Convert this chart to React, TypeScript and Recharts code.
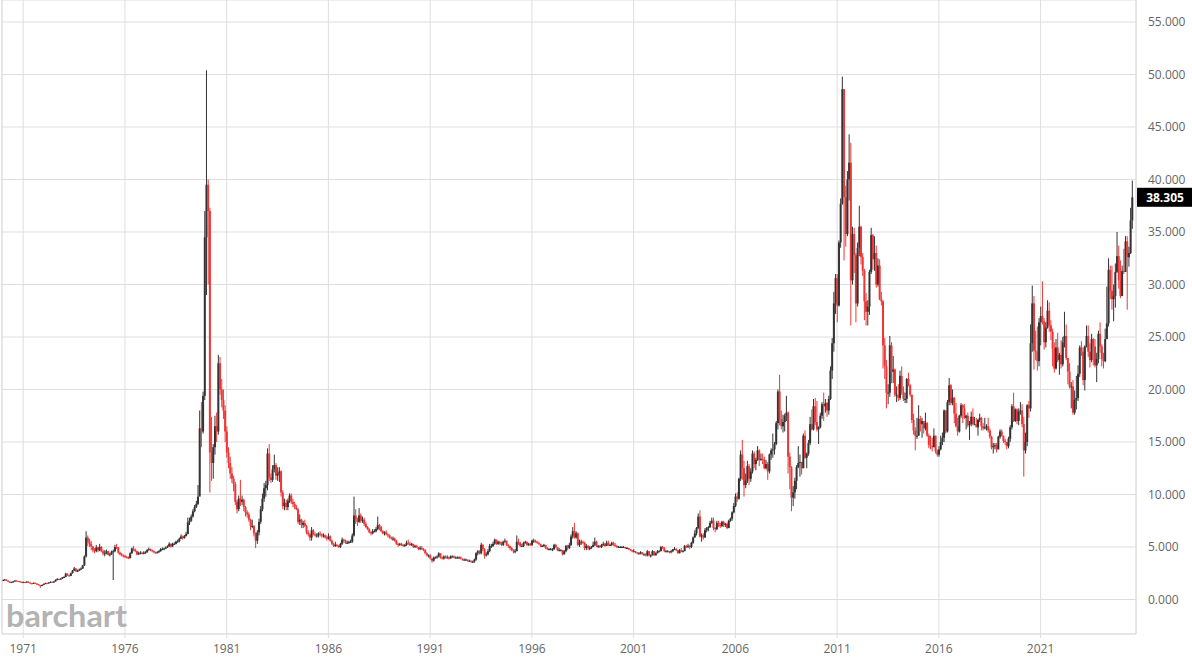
import React from "react";
import {
  ComposedChart,
  Bar,
  XAxis,
  YAxis,
  CartesianGrid,
  ReferenceLine,
} from "recharts";

// monthly silver futures, Jan 1970 .. Jul 2025
const START_YEAR = 1970;

const opens = [
  1.82, 1.86, 1.9, 1.8, 1.7, 1.64, 1.66, 1.72, 1.8, 1.76, 1.74, 1.68, // 1970
  1.64, 1.66, 1.62, 1.7, 1.62, 1.54, 1.52, 1.58, 1.52, 1.46, 1.36, 1.32, // 1971
  1.38, 1.48, 1.56, 1.54, 1.62, 1.68, 1.62, 1.72, 1.86, 1.96, 1.92, 1.98, // 1972
  2.1, 2.15, 2.45, 2.3, 2.25, 2.5, 2.75, 2.95, 2.7, 2.75, 2.85, 2.95, // 1973
  3.25, 4.1, 5.9, 5.5, 5.3, 5.05, 4.7, 4.6, 4.95, 4.7, 5.0, 4.6, // 1974
  4.4, 4.4, 4.6, 4.25, 4.3, 4.55, 4.6, 5.0, 4.95, 4.45, 4.3, 4.2, // 1975
  4.15, 4.05, 4.0, 3.95, 4.4, 4.85, 4.75, 4.6, 4.3, 4.4, 4.45, 4.4, // 1976
  4.45, 4.5, 4.7, 4.8, 4.7, 4.6, 4.5, 4.45, 4.5, 4.6, 4.8, 4.8, // 1977
  4.85, 4.95, 5.05, 5.3, 5.05, 5.3, 5.3, 5.5, 5.55, 5.8, 6.0, 5.85, // 1978
  6.05, 6.25, 7.35, 7.5, 7.9, 8.4, 8.8, 9.1, 9.8, 16.3, 16.0, 19.4, // 1979
  34.5, 39.5, 37.0, 14.0, 13.0, 14.5, 16.5, 16.0, 22.5, 20.0, 19.0, 18.0, // 1980
  16.0, 14.0, 13.0, 12.0, 11.5, 11.0, 9.3, 8.6, 9.6, 9.3, 9.5, 8.8, // 1981
  8.3, 8.1, 7.6, 7.0, 7.0, 6.3, 5.6, 6.4, 7.4, 8.6, 9.6, 10.6, // 1982
  10.9, 13.9, 11.6, 11.4, 12.4, 12.8, 11.8, 12.0, 12.2, 10.2, 8.9, 9.2, // 1983
  8.8, 9.4, 9.9, 9.3, 9.1, 8.8, 8.6, 7.4, 7.6, 7.1, 7.3, 7.0, // 1984
  6.4, 6.2, 5.9, 6.6, 6.2, 6.1, 6.1, 6.3, 6.2, 6.1, 6.1, 5.9, // 1985
  5.8, 6.0, 5.6, 5.3, 5.1, 5.2, 5.1, 5.0, 5.3, 5.7, 5.6, 5.4, // 1986
  5.4, 5.5, 5.5, 6.1, 8.0, 7.6, 7.4, 8.0, 7.5, 7.6, 7.2, 6.9, // 1987
  6.7, 6.4, 6.3, 6.5, 6.5, 6.7, 7.1, 6.9, 6.5, 6.3, 6.4, 6.2, // 1988
  6.1, 5.9, 5.8, 5.8, 5.6, 5.3, 5.2, 5.3, 5.2, 5.1, 5.2, 5.4, // 1989
  5.3, 5.2, 5.3, 5.0, 5.1, 5.0, 4.8, 4.9, 4.8, 4.7, 4.4, 4.2, // 1990
  4.2, 3.9, 3.7, 4.0, 4.0, 4.1, 4.4, 4.0, 3.9, 4.1, 4.0, 4.0, // 1991
  3.9, 4.1, 4.1, 4.0, 4.0, 4.0, 4.0, 3.9, 3.8, 3.8, 3.8, 3.7, // 1992
  3.7, 3.6, 3.6, 3.8, 4.4, 4.6, 4.4, 5.2, 4.8, 4.2, 4.3, 4.6, // 1993
  5.1, 5.1, 5.3, 5.7, 5.3, 5.5, 5.3, 5.2, 5.5, 5.6, 5.2, 5.1, // 1994
  4.9, 4.7, 4.6, 4.6, 5.5, 5.4, 5.1, 5.1, 5.4, 5.5, 5.2, 5.3, // 1995
  5.2, 5.6, 5.6, 5.5, 5.4, 5.3, 5.1, 5.1, 5.2, 4.9, 4.8, 4.8, // 1996
  4.8, 4.8, 5.2, 5.0, 4.7, 4.7, 4.7, 4.3, 4.6, 5.1, 4.9, 5.2, // 1997
  6.0, 6.5, 5.9, 6.3, 5.2, 5.4, 5.5, 5.4, 4.9, 5.1, 4.9, 4.9, // 1998
  5.0, 5.2, 5.5, 5.1, 5.1, 5.0, 5.2, 5.3, 5.1, 5.4, 5.2, 5.2, // 1999
  5.4, 5.2, 5.1, 5.0, 5.0, 5.0, 5.0, 5.0, 4.9, 4.9, 4.8, 4.7, // 2000
  4.6, 4.6, 4.5, 4.4, 4.4, 4.5, 4.3, 4.3, 4.2, 4.6, 4.2, 4.2, // 2001
  4.6, 4.2, 4.4, 4.6, 4.6, 5.0, 4.9, 4.6, 4.6, 4.6, 4.5, 4.6, // 2002
  4.8, 4.8, 4.7, 4.4, 4.7, 4.6, 4.6, 5.1, 5.0, 5.1, 5.0, 5.4, // 2003
  5.9, 6.3, 6.8, 7.9, 6.0, 6.1, 5.9, 6.6, 6.8, 6.9, 7.3, 7.5, // 2004
  6.8, 6.7, 7.3, 7.1, 7.0, 7.4, 7.1, 7.2, 6.8, 7.5, 7.7, 8.3, // 2005
  8.9, 9.8, 9.6, 11.5, 13.8, 12.5, 10.9, 11.3, 12.7, 11.5, 12.2, 13.9, // 2006
  12.9, 13.3, 14.2, 13.3, 13.4, 13.3, 12.5, 12.9, 12.2, 13.8, 14.2, 14.3, // 2007
  14.8, 16.8, 19.8, 17.2, 16.5, 16.9, 17.5, 17.8, 13.6, 12.6, 9.7, 10.2, // 2008
  11.3, 12.6, 13.0, 13.1, 12.5, 15.6, 13.5, 13.9, 14.9, 16.7, 16.2, 18.4, // 2009
  16.9, 16.2, 16.4, 17.5, 18.6, 18.4, 18.7, 18.0, 19.1, 21.8, 24.4, 28.2, // 2010
  30.6, 28.0, 34.0, 37.7, 48.6, 38.3, 34.8, 40.0, 41.6, 30.4, 34.8, 32.8, // 2011
  28.2, 33.5, 35.5, 32.6, 31.3, 28.4, 27.4, 27.9, 31.2, 34.7, 32.4, 33.0, // 2012
  30.0, 31.8, 28.6, 28.4, 24.2, 22.2, 19.7, 19.7, 24.2, 21.7, 21.9, 19.5, // 2013
  19.5, 19.2, 21.3, 19.8, 19.1, 19.1, 21.0, 20.4, 19.5, 17.1, 16.1, 15.6, // 2014
  15.6, 17.2, 16.7, 17.0, 16.3, 16.8, 15.6, 14.7, 14.6, 14.5, 15.6, 14.1, // 2015
  13.8, 14.3, 15.0, 15.4, 18.0, 16.0, 18.8, 20.4, 18.7, 19.2, 17.7, 16.5, // 2016
  16.0, 17.5, 18.5, 18.2, 17.3, 17.5, 16.6, 16.7, 17.4, 16.7, 16.7, 16.4, // 2017
  17.1, 17.3, 16.5, 16.3, 16.4, 16.5, 16.1, 15.5, 14.5, 14.6, 14.7, 14.3, // 2018
  15.5, 16.0, 15.6, 15.1, 15.0, 14.6, 15.3, 16.4, 18.4, 17.0, 18.1, 17.0, // 2019
  17.9, 18.0, 16.7, 14.2, 15.0, 18.5, 18.2, 24.4, 28.2, 23.7, 23.6, 22.7, // 2020
  26.4, 27.0, 26.5, 24.5, 25.9, 27.5, 26.1, 25.5, 23.9, 22.0, 24.0, 22.8, // 2021
  23.3, 22.4, 24.5, 25.1, 23.0, 21.7, 20.3, 20.3, 17.8, 19.0, 19.2, 21.5, // 2022
  24.0, 23.6, 20.9, 24.1, 25.1, 23.6, 22.8, 24.8, 24.1, 22.3, 22.9, 25.3, // 2023
  24.1, 22.9, 22.7, 24.8, 26.3, 31.4, 29.4, 28.6, 28.9, 31.2, 32.7, 30.4, // 2024
  28.9, 31.3, 31.2, 34.1, 32.6, 33.0, 36.1, // 2025
];

const highs = [
  1.92, 1.94, 1.92, 1.82, 1.72, 1.7, 1.76, 1.84, 1.82, 1.78, 1.76, 1.7, // 1970
  1.7, 1.68, 1.74, 1.72, 1.63, 1.57, 1.62, 1.62, 1.54, 1.47, 1.38, 1.42, // 1971
  1.52, 1.6, 1.6, 1.65, 1.72, 1.7, 1.76, 1.92, 2.02, 1.98, 2.03, 2.14, // 1972
  2.2, 2.55, 2.5, 2.35, 2.55, 2.8, 3.1, 2.98, 2.85, 2.95, 3.05, 3.3, // 1973
  4.2, 6.5, 6.1, 5.8, 5.6, 5.1, 4.9, 5.2, 5.05, 5.3, 5.1, 4.75, // 1974
  4.7, 4.75, 4.65, 4.45, 4.65, 4.75, 5.2, 5.3, 5.0, 4.55, 4.45, 4.3, // 1975
  4.25, 4.15, 4.1, 4.5, 4.95, 5.1, 4.85, 4.65, 4.55, 4.6, 4.55, 4.6, // 1976
  4.6, 4.8, 4.95, 4.85, 4.75, 4.65, 4.55, 4.6, 4.7, 4.9, 4.95, 4.95, // 1977
  5.05, 5.15, 5.45, 5.35, 5.4, 5.45, 5.6, 5.7, 5.9, 6.2, 6.1, 6.15, // 1978
  6.45, 7.8, 7.8, 8.1, 8.6, 9.0, 9.4, 10.9, 18.0, 18.8, 19.8, 37.0, // 1979
  50.4, 40.0, 37.3, 17.4, 14.8, 17.5, 17.8, 23.3, 23.1, 21.0, 20.0, 18.5, // 1980
  16.5, 14.5, 13.6, 12.6, 11.8, 11.2, 9.5, 9.9, 11.4, 9.9, 9.6, 8.9, // 1981
  8.5, 8.3, 7.7, 7.6, 7.1, 6.4, 6.6, 7.7, 8.9, 10.1, 11.1, 11.3, // 1982
  14.4, 14.8, 12.0, 12.8, 13.8, 13.0, 12.6, 12.6, 12.3, 10.4, 9.6, 9.5, // 1983
  9.6, 10.1, 10.1, 9.6, 9.3, 9.0, 8.7, 8.1, 7.7, 7.5, 7.6, 7.1, // 1984
  6.6, 6.3, 6.9, 6.7, 6.4, 6.3, 6.4, 6.5, 6.3, 6.3, 6.2, 6.1, // 1985
  6.3, 6.1, 5.7, 5.4, 5.5, 5.3, 5.2, 5.4, 5.9, 5.8, 5.7, 5.6, // 1986
  5.6, 5.7, 6.3, 9.8, 8.6, 7.8, 8.7, 8.2, 7.9, 7.8, 7.4, 7.0, // 1987
  6.8, 6.5, 6.7, 6.7, 6.9, 7.9, 7.2, 7.0, 6.6, 6.5, 6.6, 6.3, // 1988
  6.2, 6.0, 6.0, 5.9, 5.7, 5.4, 5.4, 5.4, 5.3, 5.3, 5.6, 5.7, // 1989
  5.5, 5.4, 5.3, 5.2, 5.2, 5.0, 5.1, 5.1, 4.9, 4.8, 4.5, 4.3, // 1990
  4.3, 3.9, 4.1, 4.1, 4.2, 4.5, 4.4, 4.1, 4.2, 4.2, 4.2, 4.1, // 1991
  4.2, 4.2, 4.2, 4.1, 4.1, 4.1, 4.1, 3.9, 3.9, 3.9, 3.8, 3.8, // 1992
  3.7, 3.7, 3.9, 4.5, 4.7, 4.7, 5.4, 5.3, 4.9, 4.5, 4.8, 5.3, // 1993
  5.3, 5.5, 5.8, 5.7, 5.6, 5.6, 5.5, 5.6, 5.8, 5.6, 5.3, 5.1, // 1994
  5.0, 4.8, 4.8, 6.1, 5.8, 5.5, 5.3, 5.5, 5.6, 5.5, 5.4, 5.4, // 1995
  5.7, 5.8, 5.7, 5.6, 5.5, 5.3, 5.2, 5.3, 5.2, 5.0, 4.9, 4.9, // 1996
  4.9, 5.3, 5.3, 5.0, 4.9, 4.8, 4.7, 4.7, 5.2, 5.2, 5.4, 6.2, // 1997
  6.9, 7.3, 6.5, 6.4, 5.7, 5.7, 5.6, 5.5, 5.3, 5.2, 5.1, 5.1, // 1998
  5.5, 5.9, 5.6, 5.2, 5.2, 5.3, 5.5, 5.4, 5.6, 5.6, 5.3, 5.5, // 1999
  5.5, 5.4, 5.2, 5.1, 5.1, 5.1, 5.1, 5.0, 5.0, 4.9, 4.8, 4.7, // 2000
  4.8, 4.6, 4.5, 4.5, 4.6, 4.5, 4.4, 4.4, 4.7, 4.6, 4.3, 4.7, // 2001
  4.6, 4.5, 4.7, 4.7, 5.1, 5.1, 5.0, 4.7, 4.7, 4.6, 4.7, 4.8, // 2002
  5.0, 4.9, 4.7, 4.8, 4.9, 4.7, 5.2, 5.2, 5.3, 5.2, 5.5, 6.0, // 2003
  6.6, 6.9, 8.2, 8.5, 6.3, 6.3, 6.8, 6.9, 7.0, 7.5, 7.8, 7.8, // 2004
  6.9, 7.5, 7.5, 7.3, 7.5, 7.5, 7.3, 7.3, 7.6, 7.8, 8.4, 9.2, // 2005
  10.1, 10.2, 11.6, 14.2, 15.2, 13.2, 12.0, 13.2, 12.9, 12.5, 14.2, 14.1, // 2006
  13.5, 14.6, 14.3, 13.9, 13.9, 13.6, 13.3, 13.1, 13.9, 14.4, 15.8, 15.0, // 2007
  17.0, 20.0, 21.4, 18.0, 17.6, 17.7, 19.4, 17.9, 14.0, 12.7, 10.8, 11.6, // 2008
  12.8, 14.6, 13.8, 13.1, 15.8, 16.1, 14.0, 15.2, 17.4, 18.1, 19.1, 19.2, // 2009
  18.9, 16.5, 17.8, 18.8, 19.7, 19.1, 18.8, 19.4, 22.2, 24.9, 29.3, 31.0, // 2010
  31.0, 34.2, 38.2, 49.8, 48.6, 39.4, 40.8, 44.3, 43.5, 35.5, 35.4, 33.0, // 2011
  34.0, 37.5, 35.6, 33.0, 31.5, 29.2, 28.5, 31.4, 35.4, 34.8, 34.6, 33.7, // 2012
  32.5, 32.4, 29.3, 28.5, 24.9, 22.8, 20.5, 25.1, 24.5, 23.2, 22.0, 20.3, // 2013
  20.5, 21.8, 22.2, 20.3, 19.7, 21.1, 21.6, 20.5, 19.5, 17.7, 16.4, 17.3, // 2014
  18.5, 17.5, 17.3, 16.9, 17.8, 16.9, 15.8, 15.6, 15.4, 16.3, 15.6, 14.3, // 2015
  14.6, 15.6, 15.9, 18.1, 18.0, 19.0, 21.1, 20.5, 20.0, 19.3, 18.7, 17.3, // 2016
  17.6, 18.7, 18.6, 18.6, 17.6, 17.8, 17.0, 17.9, 18.2, 17.4, 17.3, 17.2, // 2017
  17.7, 17.4, 16.8, 17.3, 16.7, 17.3, 16.3, 15.6, 14.9, 14.9, 14.9, 15.6, // 2018
  16.2, 16.2, 15.6, 15.3, 15.0, 15.5, 16.6, 18.6, 19.7, 18.2, 18.2, 18.2, // 2019
  18.8, 18.6, 17.4, 15.9, 18.6, 18.9, 26.2, 29.9, 28.9, 25.6, 26.0, 26.8, // 2020
  27.9, 30.3, 26.8, 26.4, 28.5, 28.3, 26.6, 25.8, 24.5, 24.8, 25.4, 23.5, // 2021
  24.7, 25.0, 27.4, 26.2, 23.0, 22.5, 20.7, 20.9, 19.9, 21.3, 22.3, 24.2, // 2022
  24.6, 24.0, 24.2, 26.1, 26.1, 24.4, 25.3, 24.9, 24.8, 23.5, 25.6, 26.4, // 2023
  24.3, 23.5, 25.8, 29.8, 32.5, 31.8, 31.8, 30.0, 32.0, 35.0, 33.7, 32.3, // 2024
  31.8, 33.4, 34.6, 34.6, 33.6, 37.3, 39.9, // 2025
];

const lows = [
  1.8, 1.83, 1.77, 1.66, 1.58, 1.6, 1.63, 1.7, 1.72, 1.7, 1.64, 1.6, // 1970
  1.61, 1.58, 1.6, 1.59, 1.5, 1.48, 1.5, 1.48, 1.4, 1.33, 1.1, 1.3, // 1971
  1.36, 1.46, 1.5, 1.52, 1.58, 1.58, 1.6, 1.7, 1.82, 1.86, 1.9, 1.96, // 1972
  2.05, 2.12, 2.25, 2.18, 2.22, 2.48, 2.7, 2.6, 2.62, 2.7, 2.8, 2.9, // 1973
  3.2, 4.0, 5.1, 5.0, 4.7, 4.5, 4.4, 4.5, 4.5, 4.6, 4.5, 4.2, // 1974
  4.1, 4.3, 4.2, 4.1, 4.25, 1.85, 4.5, 4.8, 4.35, 4.2, 4.1, 4.0, // 1975
  3.95, 3.9, 3.85, 3.9, 4.35, 4.6, 4.5, 4.2, 4.25, 4.3, 4.3, 4.3, // 1976
  4.35, 4.45, 4.65, 4.6, 4.5, 4.4, 4.35, 4.4, 4.45, 4.55, 4.7, 4.7, // 1977
  4.8, 4.9, 5.0, 4.95, 5.0, 5.2, 5.25, 5.4, 5.45, 5.75, 5.7, 5.8, // 1978
  6.0, 6.2, 7.1, 7.4, 7.8, 8.3, 8.7, 9.0, 10.7, 14.5, 15.8, 19.0, // 1979
  29.0, 30.0, 10.2, 11.3, 11.5, 13.8, 15.0, 15.7, 19.5, 18.3, 17.2, 15.0, // 1980
  13.5, 12.5, 11.5, 11.1, 10.3, 9.0, 8.2, 8.4, 8.9, 9.0, 8.4, 7.9, // 1981
  7.8, 7.4, 6.6, 6.8, 6.0, 4.9, 5.3, 6.1, 7.2, 8.4, 9.3, 9.8, // 1982
  10.4, 11.3, 11.1, 11.2, 12.1, 11.4, 11.3, 11.2, 9.8, 8.6, 8.5, 8.5, // 1983
  8.5, 9.2, 9.1, 8.8, 8.6, 8.5, 7.2, 7.1, 6.8, 6.8, 6.9, 6.2, // 1984
  6.0, 5.6, 5.6, 6.1, 6.0, 5.9, 5.9, 6.0, 5.9, 5.9, 5.8, 5.6, // 1985
  5.7, 5.5, 5.2, 5.0, 5.0, 5.0, 4.9, 4.9, 5.2, 5.4, 5.3, 5.3, // 1986
  5.3, 5.4, 5.4, 6.0, 7.2, 7.0, 7.3, 7.3, 7.3, 7.0, 6.8, 6.6, // 1987
  6.3, 6.1, 6.2, 6.4, 6.4, 6.6, 6.6, 6.4, 6.2, 6.1, 6.1, 5.9, // 1988
  5.8, 5.7, 5.6, 5.5, 5.2, 5.0, 5.1, 5.1, 5.0, 5.0, 5.1, 5.2, // 1989
  5.1, 5.1, 4.9, 4.9, 4.9, 4.7, 4.7, 4.7, 4.6, 4.3, 4.1, 4.0, // 1990
  3.8, 3.5, 3.6, 3.9, 3.9, 4.0, 3.9, 3.8, 3.8, 3.9, 3.9, 3.8, // 1991
  3.9, 4.0, 3.9, 3.9, 3.9, 3.9, 3.8, 3.7, 3.7, 3.7, 3.6, 3.6, // 1992
  3.5, 3.5, 3.5, 3.7, 4.2, 4.3, 4.3, 4.6, 3.9, 4.1, 4.2, 4.5, // 1993
  4.9, 5.0, 5.2, 5.2, 5.2, 5.2, 5.1, 5.1, 5.4, 5.1, 4.9, 4.7, // 1994
  4.6, 4.4, 4.4, 4.6, 5.2, 5.0, 5.0, 5.0, 5.3, 5.1, 5.1, 5.1, // 1995
  5.1, 5.4, 5.4, 5.3, 5.2, 5.0, 5.0, 5.0, 4.8, 4.7, 4.7, 4.7, // 1996
  4.6, 4.7, 4.9, 4.6, 4.6, 4.6, 4.2, 4.3, 4.5, 4.7, 4.8, 5.1, // 1997
  5.8, 5.8, 5.8, 5.1, 5.0, 5.2, 5.3, 4.7, 4.7, 4.7, 4.7, 4.8, // 1998
  5.0, 5.1, 5.0, 4.9, 4.9, 4.9, 5.1, 5.0, 5.1, 5.1, 5.1, 5.1, // 1999
  5.1, 5.0, 4.9, 4.9, 4.9, 4.9, 4.9, 4.8, 4.8, 4.7, 4.6, 4.5, // 2000
  4.5, 4.4, 4.3, 4.3, 4.3, 4.3, 4.2, 4.1, 4.1, 4.1, 4.0, 4.2, // 2001
  4.2, 4.2, 4.4, 4.5, 4.6, 4.8, 4.5, 4.5, 4.5, 4.4, 4.4, 4.5, // 2002
  4.7, 4.6, 4.4, 4.4, 4.5, 4.5, 4.6, 4.9, 4.9, 4.8, 4.9, 5.3, // 2003
  5.9, 6.1, 6.7, 5.9, 5.5, 5.7, 5.9, 6.4, 6.5, 6.8, 7.2, 6.6, // 2004
  6.4, 6.6, 6.9, 6.8, 6.9, 6.9, 6.9, 6.7, 6.8, 7.4, 7.5, 8.2, // 2005
  8.8, 9.3, 9.5, 11.3, 11.4, 9.8, 10.6, 11.1, 10.9, 11.2, 12.0, 12.5, // 2006
  12.3, 13.2, 12.7, 13.2, 12.9, 12.4, 12.4, 11.4, 12.0, 13.3, 13.5, 13.8, // 2007
  14.7, 16.2, 16.6, 16.2, 15.9, 16.0, 17.0, 12.0, 10.5, 8.4, 8.9, 9.6, // 2008
  10.5, 12.5, 11.7, 11.9, 12.5, 13.4, 12.5, 13.7, 14.7, 16.1, 16.1, 16.6, // 2009
  16.0, 14.8, 16.3, 17.2, 17.0, 17.8, 17.4, 17.6, 19.0, 21.0, 23.6, 27.2, // 2010
  26.4, 27.9, 33.5, 37.6, 32.3, 33.6, 34.6, 38.0, 26.1, 30.0, 31.1, 26.4, // 2011
  27.9, 32.7, 31.9, 30.8, 26.6, 26.1, 26.1, 27.1, 31.0, 31.4, 31.3, 29.7, // 2012
  29.8, 28.5, 28.0, 22.0, 21.0, 18.2, 18.6, 19.3, 20.6, 20.6, 19.3, 18.8, // 2013
  18.9, 19.0, 19.5, 18.9, 18.7, 18.7, 20.3, 19.3, 16.8, 15.7, 14.2, 15.3, // 2014
  15.6, 16.0, 15.4, 15.8, 16.1, 15.5, 14.4, 14.3, 14.1, 14.5, 13.9, 13.6, // 2015
  13.6, 14.2, 14.7, 15.0, 15.8, 15.9, 18.5, 18.5, 18.5, 16.8, 16.4, 15.6, // 2016
  15.9, 17.3, 16.8, 17.2, 16.2, 16.4, 15.2, 16.5, 16.6, 16.6, 16.4, 15.6, // 2017
  16.9, 16.1, 16.1, 16.2, 16.1, 15.9, 15.3, 14.3, 13.9, 14.3, 14.0, 14.3, // 2018
  15.3, 15.5, 14.9, 14.7, 14.3, 14.4, 15.0, 16.2, 16.9, 16.9, 16.7, 16.6, // 2019
  17.6, 16.4, 11.7, 13.9, 14.6, 17.3, 17.9, 23.6, 21.9, 22.8, 21.8, 22.2, // 2020
  24.2, 26.2, 23.8, 24.0, 25.8, 25.5, 24.7, 22.2, 21.6, 21.9, 22.6, 21.4, // 2021
  22.0, 22.2, 24.0, 22.8, 20.5, 20.1, 18.2, 17.6, 17.6, 18.1, 18.9, 21.2, // 2022
  23.2, 20.4, 19.9, 24.0, 23.1, 22.1, 22.6, 22.3, 22.1, 20.7, 22.5, 23.5, // 2023
  22.2, 22.0, 22.6, 24.8, 26.0, 28.6, 27.6, 26.5, 27.8, 31.1, 29.6, 28.7, // 2024
  29.2, 31.0, 31.2, 27.6, 31.7, 32.9, 35.3, // 2025
];

const closes = [
  1.86, 1.9, 1.8, 1.7, 1.64, 1.66, 1.72, 1.8, 1.76, 1.74, 1.68, 1.64, // 1970
  1.66, 1.62, 1.7, 1.62, 1.54, 1.52, 1.58, 1.52, 1.46, 1.36, 1.32, 1.38, // 1971
  1.48, 1.56, 1.54, 1.62, 1.68, 1.62, 1.72, 1.86, 1.96, 1.92, 1.98, 2.1, // 1972
  2.15, 2.45, 2.3, 2.25, 2.5, 2.75, 2.95, 2.7, 2.75, 2.85, 2.95, 3.25, // 1973
  4.1, 5.9, 5.5, 5.3, 5.05, 4.7, 4.6, 4.95, 4.7, 5.0, 4.6, 4.4, // 1974
  4.4, 4.6, 4.25, 4.3, 4.55, 4.6, 5.0, 4.95, 4.45, 4.3, 4.2, 4.15, // 1975
  4.05, 4.0, 3.95, 4.4, 4.85, 4.75, 4.6, 4.3, 4.4, 4.45, 4.4, 4.45, // 1976
  4.5, 4.7, 4.8, 4.7, 4.6, 4.5, 4.45, 4.5, 4.6, 4.8, 4.8, 4.85, // 1977
  4.95, 5.05, 5.3, 5.05, 5.3, 5.3, 5.5, 5.55, 5.8, 6.0, 5.85, 6.05, // 1978
  6.25, 7.35, 7.5, 7.9, 8.4, 8.8, 9.1, 9.8, 16.3, 16.0, 19.4, 34.5, // 1979
  39.5, 37.0, 14.0, 13.0, 14.5, 16.5, 16.0, 22.5, 20.0, 19.0, 18.0, 16.0, // 1980
  14.0, 13.0, 12.0, 11.5, 11.0, 9.3, 8.6, 9.6, 9.3, 9.5, 8.8, 8.3, // 1981
  8.1, 7.6, 7.0, 7.0, 6.3, 5.6, 6.4, 7.4, 8.6, 9.6, 10.6, 10.9, // 1982
  13.9, 11.6, 11.4, 12.4, 12.8, 11.8, 12.0, 12.2, 10.2, 8.9, 9.2, 8.8, // 1983
  9.4, 9.9, 9.3, 9.1, 8.8, 8.6, 7.4, 7.6, 7.1, 7.3, 7.0, 6.4, // 1984
  6.2, 5.9, 6.6, 6.2, 6.1, 6.1, 6.3, 6.2, 6.1, 6.1, 5.9, 5.8, // 1985
  6.0, 5.6, 5.3, 5.1, 5.2, 5.1, 5.0, 5.3, 5.7, 5.6, 5.4, 5.4, // 1986
  5.5, 5.5, 6.1, 8.0, 7.6, 7.4, 8.0, 7.5, 7.6, 7.2, 6.9, 6.7, // 1987
  6.4, 6.3, 6.5, 6.5, 6.7, 7.1, 6.9, 6.5, 6.3, 6.4, 6.2, 6.1, // 1988
  5.9, 5.8, 5.8, 5.6, 5.3, 5.2, 5.3, 5.2, 5.1, 5.2, 5.4, 5.3, // 1989
  5.2, 5.3, 5.0, 5.1, 5.0, 4.8, 4.9, 4.8, 4.7, 4.4, 4.2, 4.2, // 1990
  3.9, 3.7, 4.0, 4.0, 4.1, 4.4, 4.0, 3.9, 4.1, 4.0, 4.0, 3.9, // 1991
  4.1, 4.1, 4.0, 4.0, 4.0, 4.0, 3.9, 3.8, 3.8, 3.8, 3.7, 3.7, // 1992
  3.6, 3.6, 3.8, 4.4, 4.6, 4.4, 5.2, 4.8, 4.2, 4.3, 4.6, 5.1, // 1993
  5.1, 5.3, 5.7, 5.3, 5.5, 5.3, 5.2, 5.5, 5.6, 5.2, 5.1, 4.9, // 1994
  4.7, 4.6, 4.6, 5.5, 5.4, 5.1, 5.1, 5.4, 5.5, 5.2, 5.3, 5.2, // 1995
  5.6, 5.6, 5.5, 5.4, 5.3, 5.1, 5.1, 5.2, 4.9, 4.8, 4.8, 4.8, // 1996
  4.8, 5.2, 5.0, 4.7, 4.7, 4.7, 4.3, 4.6, 5.1, 4.9, 5.2, 6.0, // 1997
  6.5, 5.9, 6.3, 5.2, 5.4, 5.5, 5.4, 4.9, 5.1, 4.9, 4.9, 5.0, // 1998
  5.2, 5.5, 5.1, 5.1, 5.0, 5.2, 5.3, 5.1, 5.4, 5.2, 5.2, 5.4, // 1999
  5.2, 5.1, 5.0, 5.0, 5.0, 5.0, 5.0, 4.9, 4.9, 4.8, 4.7, 4.6, // 2000
  4.6, 4.5, 4.4, 4.4, 4.5, 4.3, 4.3, 4.2, 4.6, 4.2, 4.2, 4.6, // 2001
  4.2, 4.4, 4.6, 4.6, 5.0, 4.9, 4.6, 4.6, 4.6, 4.5, 4.6, 4.8, // 2002
  4.8, 4.7, 4.4, 4.7, 4.6, 4.6, 5.1, 5.0, 5.1, 5.0, 5.4, 5.9, // 2003
  6.3, 6.8, 7.9, 6.0, 6.1, 5.9, 6.6, 6.8, 6.9, 7.3, 7.5, 6.8, // 2004
  6.7, 7.3, 7.1, 7.0, 7.4, 7.1, 7.2, 6.8, 7.5, 7.7, 8.3, 8.9, // 2005
  9.8, 9.6, 11.5, 13.8, 12.5, 10.9, 11.3, 12.7, 11.5, 12.2, 13.9, 12.9, // 2006
  13.3, 14.2, 13.3, 13.4, 13.3, 12.5, 12.9, 12.2, 13.8, 14.2, 14.3, 14.8, // 2007
  16.8, 19.8, 17.2, 16.5, 16.9, 17.5, 17.8, 13.6, 12.6, 9.7, 10.2, 11.3, // 2008
  12.6, 13.0, 13.1, 12.5, 15.6, 13.5, 13.9, 14.9, 16.7, 16.2, 18.4, 16.9, // 2009
  16.2, 16.4, 17.5, 18.6, 18.4, 18.7, 18.0, 19.1, 21.8, 24.4, 28.2, 30.6, // 2010
  28.0, 34.0, 37.7, 48.6, 38.3, 34.8, 40.0, 41.6, 30.4, 34.8, 32.8, 28.2, // 2011
  33.5, 35.5, 32.6, 31.3, 28.4, 27.4, 27.9, 31.2, 34.7, 32.4, 33.0, 30.0, // 2012
  31.8, 28.6, 28.4, 24.2, 22.2, 19.7, 19.7, 24.2, 21.7, 21.9, 19.5, 19.5, // 2013
  19.2, 21.3, 19.8, 19.1, 19.1, 21.0, 20.4, 19.5, 17.1, 16.1, 15.6, 15.6, // 2014
  17.2, 16.7, 17.0, 16.3, 16.8, 15.6, 14.7, 14.6, 14.5, 15.6, 14.1, 13.8, // 2015
  14.3, 15.0, 15.4, 18.0, 16.0, 18.8, 20.4, 18.7, 19.2, 17.7, 16.5, 16.0, // 2016
  17.5, 18.5, 18.2, 17.3, 17.5, 16.6, 16.7, 17.4, 16.7, 16.7, 16.4, 17.1, // 2017
  17.3, 16.5, 16.3, 16.4, 16.5, 16.1, 15.5, 14.5, 14.6, 14.7, 14.3, 15.5, // 2018
  16.0, 15.6, 15.1, 15.0, 14.6, 15.3, 16.4, 18.4, 17.0, 18.1, 17.0, 17.9, // 2019
  18.0, 16.7, 14.2, 15.0, 18.5, 18.2, 24.4, 28.2, 23.7, 23.6, 22.7, 26.4, // 2020
  27.0, 26.5, 24.5, 25.9, 27.5, 26.1, 25.5, 23.9, 22.0, 24.0, 22.8, 23.3, // 2021
  22.4, 24.5, 25.1, 23.0, 21.7, 20.3, 20.3, 17.8, 19.0, 19.2, 21.5, 24.0, // 2022
  23.6, 20.9, 24.1, 25.1, 23.6, 22.8, 24.8, 24.1, 22.3, 22.9, 25.3, 24.1, // 2023
  22.9, 22.7, 24.8, 26.3, 31.4, 29.4, 28.6, 28.9, 31.2, 32.7, 30.4, 28.9, // 2024
  31.3, 31.2, 34.1, 32.6, 33.0, 36.1, 38.305, // 2025
];

const yearTicks = [1971, 1976, 1981, 1986, 1991, 1996, 2001, 2006, 2011, 2016, 2021];
const priceTicks = [0, 5, 10, 15, 20, 25, 30, 35, 40, 45, 50, 55];
const lastPrice = 38.305;

const UP = "#333333";
const DOWN = "#ee3636";
const GRID = "#dedede";

const monthKey = (i: number) =>
  `${START_YEAR + Math.floor(i / 12)}-${String((i % 12) + 1).padStart(2, "0")}`;

const data = closes.map((close, i) => ({
  key: monthKey(i),
  open: opens[i],
  high: highs[i],
  low: lows[i],
  close,
}));

function Candle(props: any) {
  const { x, y, width, height, payload } = props;
  if (!payload || x == null) return null;
  const top = Math.min(y, y + height);
  const bottom = Math.max(y, y + height);
  const { open, high, low, close } = payload;
  const span = high - low || 1;
  const toY = (v: number) => top + ((high - v) / span) * (bottom - top);
  const cx = x + width / 2;
  const color = close >= open ? UP : DOWN;
  const bodyTop = toY(Math.max(open, close));
  const bodyH = Math.max(1, toY(Math.min(open, close)) - bodyTop);
  return (
    <g>
      <line x1={cx} x2={cx} y1={top} y2={Math.max(bottom, top + 1)} stroke={color} strokeWidth={1} />
      <rect x={cx - 1} y={bodyTop} width={2} height={bodyH} fill={color} />
    </g>
  );
}

function PriceBadge(props: any) {
  const { viewBox } = props;
  if (!viewBox) return null;
  const x = viewBox.x + viewBox.width + 1;
  const y = viewBox.y;
  return (
    <g>
      <rect x={x} y={y - 9.5} width={55} height={19} fill="#000" />
      <text
        x={x + 28}
        y={y}
        dy="0.36em"
        textAnchor="middle"
        fill="#fff"
        fontSize={12}
        fontWeight={700}
        fontFamily="Open Sans"
      >
        {lastPrice.toFixed(3)}
      </text>
    </g>
  );
}

const tickStyle = { fill: "#666", fontSize: 12, fontFamily: "Open Sans" };

export default function App() {
  return (
    <div
      style={{
        position: "absolute",
        left: 0,
        top: 0,
        width: 1192,
        height: 659,
        background: "#fff",
        fontFamily: "Open Sans",
      }}
    >
      <ComposedChart
        width={1192}
        height={659}
        data={data}
        margin={{ top: 0, right: 0, bottom: 0, left: 0 }}
        barCategoryGap={0}
      >
        <CartesianGrid stroke={GRID} yAxisId="p" />
        <XAxis
          dataKey="key"
          ticks={yearTicks.map((y) => `${y}-01`)}
          interval={0}
          tickFormatter={(v: string) => v.slice(0, 4)}
          padding={{ left: 0, right: 3 }}
          height={25}
          tickSize={4}
          tickMargin={6}
          tickLine={{ stroke: GRID }}
          axisLine={{ stroke: GRID }}
          tick={tickStyle}
        />
        <YAxis
          yAxisId="edge"
          orientation="left"
          width={2}
          domain={[0, 1]}
          tick={false}
          tickLine={false}
          axisLine={{ stroke: GRID }}
        />
        <YAxis
          yAxisId="p"
          orientation="right"
          type="number"
          domain={[-3.286, 57.095]}
          allowDataOverflow
          ticks={priceTicks}
          interval={0}
          width={56}
          tickLine={false}
          tickSize={0}
          tickMargin={12}
          axisLine={{ stroke: GRID }}
          tick={tickStyle}
          tickFormatter={(v: number) => v.toFixed(3)}
        />
        <Bar
          yAxisId="p"
          dataKey={(d: any) => [d.low, d.high]}
          shape={<Candle />}
          isAnimationActive={false}
        />
        <ReferenceLine
          yAxisId="p"
          y={lastPrice}
          stroke="none"
          label={PriceBadge}
        />
      </ComposedChart>
      <svg
        width={140}
        height={40}
        style={{ position: "absolute", left: 0, top: 596, pointerEvents: "none" }}
      >
        <text
          x={6}
          y={31}
          fontFamily="Lato"
          fontWeight={700}
          fontSize={30}
          fill="#b3b3b3"
          textLength={121}
          lengthAdjust="spacingAndGlyphs"
        >
          barchart
        </text>
      </svg>
    </div>
  );
}
